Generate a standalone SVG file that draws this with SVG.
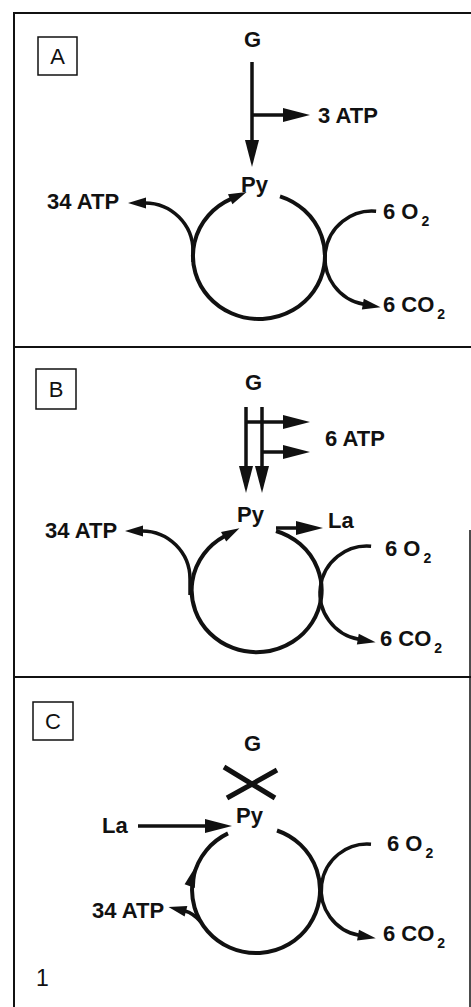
<svg xmlns="http://www.w3.org/2000/svg" width="471" height="1007" viewBox="0 0 471 1007">
<defs>
<style>
.frame{stroke:#111;stroke-width:2;fill:none}
.box{stroke:#111;stroke-width:1.5;fill:none}
.ln{stroke:#111;stroke-width:3.5;fill:none}
.cyc{stroke:#111;stroke-width:4;fill:none}
.lbl{font-family:"Liberation Sans",Arial,sans-serif;font-weight:bold;font-size:22px;fill:#111}
.sub{font-size:14px}
.pan{font-family:"Liberation Sans",Arial,sans-serif;font-size:22px;fill:#111;text-anchor:middle}
</style>
<marker id="big" markerUnits="userSpaceOnUse" markerWidth="27" markerHeight="14" refX="1" refY="7" orient="auto" overflow="visible"><path d="M0,0 L27,7 L0,14 z" fill="#111"/></marker>
<marker id="sm" markerUnits="userSpaceOnUse" markerWidth="18" markerHeight="11" refX="1" refY="5.5" orient="auto" overflow="visible"><path d="M0,0 L18,5.5 L0,11 z" fill="#111"/></marker>
</defs>
<rect width="471" height="1007" fill="#fff"/>
<g id="frame">
<path class="frame" d="M14,12 V1007 M14,13 H471 M14,347 H471 M14,677 H471"/>
<path class="box" d="M470,530 V1007"/>
</g>
<g id="panelA">
<g id="labelA"><rect class="box" x="38" y="37" width="39" height="38"/><text class="pan" x="57.5" y="64">A</text></g>
<text id="A-G" class="lbl" x="244" y="47">G</text>
<text id="A-3ATP" class="lbl" x="318" y="123">3 ATP</text>
<text id="A-Py" class="lbl" x="241" y="192">Py</text>
<text id="A-34ATP" class="lbl" x="47" y="209">34 ATP</text>
<text id="A-O2" class="lbl" x="383" y="219">6 O<tspan class="sub" dx="3" dy="7">2</tspan></text>
<text id="A-CO2" class="lbl" x="383" y="312">6 CO<tspan class="sub" dx="3" dy="7">2</tspan></text>
</g>
<g id="panelB">
<g id="labelB"><rect class="box" x="36" y="369" width="40" height="40"/><text class="pan" x="56" y="397">B</text></g>
<text id="B-G" class="lbl" x="245" y="390">G</text>
<text id="B-6ATP" class="lbl" x="325" y="446">6 ATP</text>
<text id="B-Py" class="lbl" x="237" y="522">Py</text>
<text id="B-La" class="lbl" x="328" y="528">La</text>
<text id="B-34ATP" class="lbl" x="45" y="538">34 ATP</text>
<text id="B-O2" class="lbl" x="385" y="556">6 O<tspan class="sub" dx="3" dy="7">2</tspan></text>
<text id="B-CO2" class="lbl" x="380" y="646">6 CO<tspan class="sub" dx="3" dy="7">2</tspan></text>
</g>
<g id="panelC">
<g id="labelC"><rect class="box" x="33" y="702" width="40" height="38"/><text class="pan" x="53" y="729">C</text></g>
<text id="C-G" class="lbl" x="244" y="751">G</text>
<text id="C-Py" class="lbl" x="236" y="823">Py</text>
<text id="C-La" class="lbl" x="102" y="833">La</text>
<text id="C-34ATP" class="lbl" x="92" y="918">34 ATP</text>
<text id="C-O2" class="lbl" x="387" y="851">6 O<tspan class="sub" dx="3" dy="7">2</tspan></text>
<text id="C-CO2" class="lbl" x="383" y="941">6 CO<tspan class="sub" dx="3" dy="7">2</tspan></text>
<text id="fig-num" x="36" y="986" font-family="Liberation Sans, Arial, sans-serif" font-size="23" fill="#111">1</text>
</g>
<g id="connectors">
<!-- Panel A -->
<path class="ln" d="M252,62 V141" marker-end="url(#big)"/>
<path class="ln" d="M252,115 H284" marker-end="url(#big)"/>
<path class="cyc" d="M280,196.3 A66,63 0 1 1 231.1,198.9" marker-end="url(#sm)"/>
<path class="ln" d="M193,262 V251 C193,224.5 171.5,203 145,203" marker-end="url(#sm)"/>
<path class="ln" d="M376.1,211.2 A47,47 0 0 0 363.8,304.3" marker-end="url(#sm)"/>
<!-- Panel B -->
<path class="ln" d="M246,407 V467" marker-end="url(#big)"/>
<path class="ln" d="M262,407 V467" marker-end="url(#big)"/>
<path class="ln" d="M246,422 H284" marker-end="url(#big)"/>
<path class="ln" d="M262,452 H284" marker-end="url(#big)"/>
<path class="cyc" d="M276,531 A65,62 0 1 1 224.5,536.3" marker-end="url(#sm)"/>
<path class="ln" d="M276,528 H297" marker-end="url(#big)"/>
<path class="ln" d="M190,595 V579 C190,552.5 168.5,531 142,531" marker-end="url(#sm)"/>
<path class="ln" d="M371.1,546.2 A47,47 0 0 0 358.8,639.3" marker-end="url(#sm)"/>
<!-- Panel C -->
<path d="M224,767 L275,798 M227,798 L277,770" stroke="#111" stroke-width="5" fill="none"/>
<path class="ln" d="M138,826 H206" marker-end="url(#big)"/>
<path class="cyc" d="M277,830.5 A64,63 0 1 1 228,833.4"/>
<polygon points="196.2,865.5 194.8,888.1 184.6,884.3" fill="#111"/>
<path class="ln" d="M201,922 Q193,913 185,911" marker-end="url(#sm)"/>
<path class="ln" d="M371,844.2 A46,46 0 0 0 359,935.3" marker-end="url(#sm)"/>
</g>
</svg>
